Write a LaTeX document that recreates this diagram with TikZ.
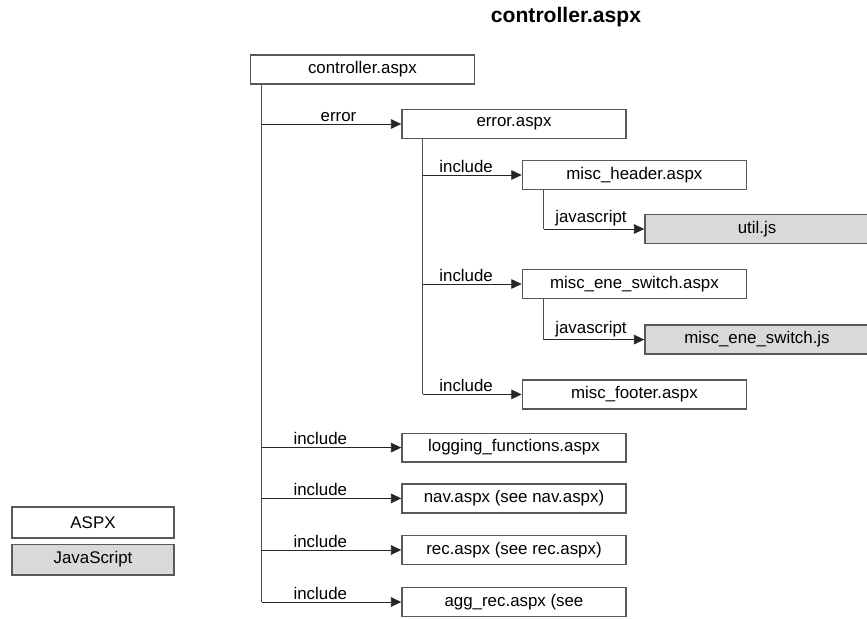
\documentclass[tikz,border=0pt]{standalone}
\usepackage{fontspec}
\setmainfont{Liberation Sans}
\usetikzlibrary{arrows.meta}
\tikzset{
  box/.style={draw=black!65, line width=1pt, align=center, minimum width=5.6cm, minimum height=0.72cm, inner sep=0pt, font=\fontsize{12}{14}\selectfont},
  kaspx/.style={box, fill=white}, kjs/.style={box, fill=black!15},
  klegend/.style={minimum width=4.05cm, minimum height=0.77cm},
  flow/.style={-{Triangle[length=2.6mm, width=2.4mm]}, line width=0.6pt, draw=black!85},
  trunk/.style={line width=0.6pt, draw=black!70},
  lbl/.style={above, inner sep=1.5pt, font=\fontsize{12}{14}\selectfont},
}
\begin{document}
\begin{tikzpicture}
    \useasboundingbox (0,0) rectangle (21.675,-15.475);
    \node[font=\bfseries\fontsize{15}{18}\selectfont] (title) at (14.15,-0.42) {controller.aspx};
    \node[kaspx] (ctrl) at (9.06,-1.74) {controller.aspx};
    \node[kaspx] (err) at (12.85,-3.10) {error.aspx};
    \node[kaspx] (header) at (15.86,-4.375) {misc\_header.aspx};
    \node[kjs] (util) at (18.925,-5.725) {util.js};
    \node[kaspx] (eneswitch) at (15.86,-7.10) {misc\_ene\_switch.aspx};
    \node[kjs] (enejs) at (18.925,-8.49) {misc\_ene\_switch.js};
    \node[kaspx] (footer) at (15.86,-9.86) {misc\_footer.aspx};
    \node[kaspx] (logging) at (12.85,-11.19) {logging\_functions.aspx};
    \node[kaspx] (nav) at (12.85,-12.46) {nav.aspx (see nav.aspx)};
    \node[kaspx] (rec) at (12.85,-13.75) {rec.aspx (see rec.aspx)};
    \node[kaspx] (aggrec) at (12.85,-15.05) {agg\_rec.aspx (see};
    % legend
    \node[kaspx, klegend] (legaspx) at (2.325,-13.06) {ASPX};
    \node[kjs, klegend] (legjs) at (2.325,-13.99) {JavaScript};
    % controller trunk
    \coordinate (t0) at ([xshift=3mm]ctrl.south west);
    \draw[trunk] (t0) -- (t0 |- aggrec);
    \draw[flow] (t0 |- err) -- (err) node[lbl, pos=0.55]{error};
    \foreach \n in {logging, nav, rec, aggrec}
      \draw[flow] (t0 |- \n) -- (\n) node[lbl, pos=0.42]{include};
    % error trunk
    \coordinate (t1) at ([xshift=5.3mm]err.south west);
    \draw[trunk] (t1) -- (t1 |- footer);
    \foreach \n in {header, eneswitch, footer}
      \draw[flow] (t1 |- \n) -- (\n) node[lbl, pos=0.44]{include};
    % javascript
    \coordinate (t2) at ([xshift=5.5mm]header.south west);
    \draw[trunk] (t2) -- (t2 |- util);
    \draw[flow] (t2 |- util) -- (util) node[lbl, pos=0.47]{javascript};
    \coordinate (t3) at ([xshift=5.5mm]eneswitch.south west);
    \draw[trunk] (t3) -- (t3 |- enejs);
    \draw[flow] (t3 |- enejs) -- (enejs) node[lbl, pos=0.47]{javascript};
  \end{tikzpicture}
\end{document}
